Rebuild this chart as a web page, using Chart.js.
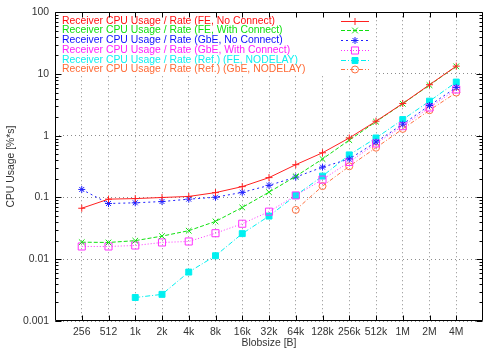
<!DOCTYPE html>
<html><head><meta charset="utf-8">
<script src="https://cdn.jsdelivr.net/npm/chart.js@4/dist/chart.umd.min.js"></script>
<style>html,body{margin:0;padding:0;background:#fff}canvas{display:block}</style>
</head><body>
<canvas id="c" width="500" height="350"></canvas>
<script>
const categories = ['256','512','1k','2k','4k','8k','16k','32k','64k','128k','256k','512k','1M','2M','4M'];
const yTickValues = [0.001, 0.01, 0.1, 1, 10, 100];
const yTickLabels = ['0.001', '0.01', '0.1', '1', '10', '100'];
const seriesNames = [
  'Receiver CPU Usage / Rate (FE, No Connect)',
  'Receiver CPU Usage / Rate (FE, With Connect)',
  'Receiver CPU Usage / Rate (GbE, No Connect)',
  'Receiver CPU Usage / Rate (GbE, With Connect)',
  'Receiver CPU Usage / Rate (Ref.) (FE, NODELAY)',
  'Receiver CPU Usage / Rate (Ref.) (GbE, NODELAY)'
];
const feNoConnect    = [0.067, 0.094, 0.096, 0.100, 0.104, 0.120, 0.150, 0.210, 0.34, 0.53, 0.92, 1.72, 3.33, 6.7, 13.4];
const feWithConnect  = [0.0189, 0.0187, 0.0200, 0.0237, 0.029, 0.041, 0.069, 0.122, 0.22, 0.42, 0.85, 1.69, 3.30, 6.6, 13.3];
const gbeNoConnect   = [0.135, 0.080, 0.082, 0.086, 0.094, 0.101, 0.121, 0.157, 0.214, 0.31, 0.42, 0.79, 1.54, 3.09, 6.06];
const gbeWithConnect = [0.0161, 0.0161, 0.0167, 0.0187, 0.0194, 0.0264, 0.0376, 0.059, 0.108, 0.195, 0.376, 0.75, 1.43, 2.87, 5.62];
const feNodelay      = [null, null, 0.0024, 0.0027, 0.0062, 0.0114, 0.026, 0.050, 0.108, 0.222, 0.49, 0.92, 1.83, 3.63, 7.4];
const gbeNodelay     = [null, null, null, null, null, null, null, null, 0.063, 0.153, 0.32, 0.64, 1.29, 2.59, 5.0];

const seriesValues = [feNoConnect, feWithConnect, gbeNoConnect, gbeWithConnect, feNodelay, gbeNodelay];
const styles = [
  {color:'#ff2020', dash:[], point:'cross', r:3.5, fill:false},
  {color:'#10e010', dash:[4,2], point:'crossRot', r:4, fill:false},
  {color:'#2020ff', dash:[2,3], point:'star', r:3.5, fill:false},
  {color:'#ff30ff', dash:[1,2], point:'rect', r:5, fill:false},
  {color:'#00f0f0', dash:[5,2,1,2], point:'rect', r:4.2, fill:true},
  {color:'#ff7040', dash:[4,2,1,2], point:'circle', r:3.5, fill:false}
];
const textColors = ['#ff1010','#10e010','#1010ff','#ff20ff','#10f0f0','#ff6a35'];

function toPoints(arr){ const out=[]; arr.forEach((v,i)=>{ if(v!==null) out.push({x:i,y:v}); }); return out; }

const datasets = seriesValues.map((arr,k)=>({
  label: seriesNames[k],
  data: toPoints(arr),
  borderColor: styles[k].color,
  backgroundColor: styles[k].fill ? styles[k].color : 'rgba(0,0,0,0)',
  borderWidth: 1,
  borderDash: styles[k].dash,
  pointStyle: styles[k].point,
  pointRadius: styles[k].r,
  pointBorderWidth: 1,
  pointBorderColor: styles[k].color,
  pointBackgroundColor: styles[k].fill ? styles[k].color : 'rgba(0,0,0,0)',
  tension: 0,
  fill: false
}));

const FONT = 'Liberation Sans, Arial, sans-serif';

const gp = {
  id: 'gp',
  beforeDatasetsDraw(chart){
    const ctx = chart.ctx, a = chart.chartArea;
    ctx.save();
    ctx.fillStyle = '#fff';
    ctx.fillRect(a.left, a.top, 320.5, 63.5);
    ctx.font = '10.4px ' + FONT;
    ctx.textBaseline = 'middle';
    ctx.textAlign = 'left';
    seriesNames.forEach((name,k)=>{
      const y = a.top + 8.5 + k*9.75;
      ctx.fillStyle = textColors[k];
      ctx.fillText(name, a.left + 7, y);
      const s = styles[k];
      ctx.strokeStyle = s.color;
      ctx.lineWidth = 1;
      ctx.setLineDash(s.dash);
      ctx.beginPath(); ctx.moveTo(a.left + 286, Math.round(y)+0.5); ctx.lineTo(a.left + 314, Math.round(y)+0.5); ctx.stroke();
      ctx.setLineDash([]);
      ctx.fillStyle = s.fill ? s.color : 'rgba(0,0,0,0)';
      Chart.helpers.drawPoint(ctx, {pointStyle:s.point, radius:s.r, rotation:0, borderWidth:1}, a.left + 300, Math.round(y)+0.5);
    });
    ctx.restore();
  },
  afterDraw(chart){
    const ctx = chart.ctx, a = chart.chartArea;
    const xs = chart.scales.x, ys = chart.scales.y;
    ctx.save();
    ctx.strokeStyle = '#000';
    ctx.lineWidth = 1;
    ctx.setLineDash([]);
    ctx.beginPath();
    const L = Math.round(a.left)+0.5, R = Math.round(a.right)-0.5, T = Math.round(a.top)+0.5, B = Math.round(a.bottom)-0.5;
    ctx.rect(L, T, R-L, B-T);
    categories.forEach((c,i)=>{
      const px = Math.round(xs.getPixelForValue(i))+0.5;
      ctx.moveTo(px, B); ctx.lineTo(px, B-5);
      ctx.moveTo(px, T); ctx.lineTo(px, T+5);
    });
    for (let e=-3; e<=2; e++){
      for (let m=1; m<=9; m++){
        const v = m*Math.pow(10,e);
        if (v > 100.0001) break;
        const py = Math.round(ys.getPixelForValue(v))+0.5;
        const len = m===1 ? 6 : 3;
        ctx.moveTo(L, py); ctx.lineTo(L+len, py);
        ctx.moveTo(R, py); ctx.lineTo(R-len, py);
      }
    }
    ctx.stroke();
    ctx.restore();
  }
};

new Chart(document.getElementById('c'), {
  type: 'line',
  data: { datasets },
  options: {
    responsive: false,
    animation: false,
    devicePixelRatio: 1,
    layout: { padding: { left: 0, right: 17, top: 12, bottom: 0 } },
    plugins: { legend: { display: false }, tooltip: { enabled: false } },
    scales: {
      x: {
        type: 'linear', min: -1, max: 15,
        afterBuildTicks: s => { s.ticks = categories.map((c,i)=>({value:i})); },
        afterFit: s => { s.height = 29; },
        ticks: { callback: v => categories[v] ?? '', font: {family: FONT, size: 10.4}, color: '#333', padding: 5, maxRotation: 0, autoSkip: false },
        grid: { color: '#8c8c8c', lineWidth: 1, drawTicks: false },
        border: { display: false, dash: [1,3] },
        title: { display: true, text: 'Blobsize [B]', font: {family: FONT, size: 10.4}, color: '#333', padding: {top: 1, bottom: 1} }
      },
      y: {
        type: 'logarithmic', min: 0.001, max: 100,
        afterBuildTicks: s => { s.ticks = yTickValues.map(v=>({value:v, major:true})); },
        afterFit: s => { s.width = 55; },
        ticks: { callback: (v) => yTickLabels[yTickValues.indexOf(v)] ?? '', font: {family: FONT, size: 10.4}, color: '#333', padding: 6, autoSkip: false },
        grid: { color: '#8c8c8c', lineWidth: 1, drawTicks: false },
        border: { display: false, dash: [1,3] },
        title: { display: true, text: 'CPU Usage [%*s]', font: {family: FONT, size: 10.4}, color: '#333', padding: {top: 5, bottom: 0} }
      }
    }
  },
  plugins: [gp]
});
</script>
</body></html>
